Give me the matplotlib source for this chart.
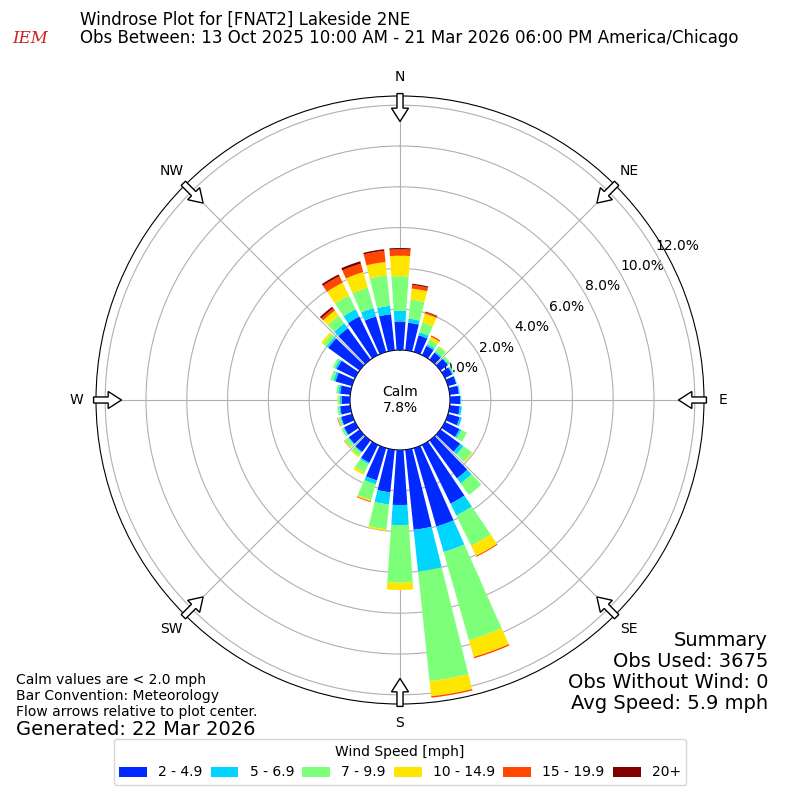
import numpy as np
import matplotlib
matplotlib.use("Agg")
import matplotlib.pyplot as plt
import matplotlib.patches as mpatches

# direction bins (deg, meteorological) and percent frequency per speed class
directions = np.arange(0, 360, 10)
speed_labels = ['2 - 4.9', '5 - 6.9', '7 - 9.9', '10 - 14.9', '15 - 19.9', '20+']
spd_2_5 = [1.40, 1.36, 0.85, 0.50, 0.42, 0.45, 0.40, 0.42, 0.45, 0.50, 0.50, 0.60,
           0.80, 1.20, 2.30, 3.20, 4.00, 3.95, 2.70, 2.10, 1.65, 0.97, 0.70, 0.65,
           0.60, 0.55, 0.50, 0.41, 0.50, 0.84, 1.00, 1.90, 1.90, 2.10, 1.81, 1.78]
spd_5_7 = [0.52, 0.20, 0.15, 0.10, 0.08, 0.05, 0.05, 0.03, 0.05, 0.05, 0.10, 0.10,
           0.10, 0.20, 0.30, 0.65, 1.30, 2.05, 0.98, 0.60, 0.20, 0.08, 0.05, 0.05,
           0.05, 0.05, 0.05, 0.09, 0.10, 0.11, 0.10, 0.10, 0.30, 0.40, 0.43, 0.41]
spd_7_10 = [1.70, 0.94, 0.50, 0.25, 0.28, 0.12, 0.05, 0.00, 0.00, 0.00, 0.00, 0.00,
            0.30, 0.50, 0.70, 1.65, 4.50, 5.40, 2.82, 1.22, 0.80, 0.45, 0.20, 0.18,
            0.10, 0.10, 0.10, 0.08, 0.09, 0.15, 0.12, 0.20, 0.45, 0.75, 1.04, 1.50]
spd_10_15 = [1.00, 0.54, 0.45, 0.15, 0.04, 0.00, 0.00, 0.00, 0.00, 0.00, 0.00, 0.00,
             0.00, 0.05, 0.00, 0.55, 0.85, 0.75, 0.36, 0.08, 0.07, 0.13, 0.07, 0.05,
             0.00, 0.02, 0.00, 0.04, 0.00, 0.00, 0.00, 0.12, 0.32, 0.70, 0.79, 0.66]
spd_15_20 = [0.31, 0.18, 0.08, 0.07, 0.00, 0.00, 0.00, 0.00, 0.00, 0.00, 0.00, 0.00,
             0.00, 0.00, 0.00, 0.05, 0.07, 0.07, 0.00, 0.00, 0.04, 0.00, 0.00, 0.02,
             0.00, 0.03, 0.00, 0.00, 0.00, 0.00, 0.00, 0.00, 0.13, 0.35, 0.43, 0.55]
spd_20p = [0.07, 0.06, 0.03, 0.00, 0.00, 0.00, 0.00, 0.00, 0.00, 0.00, 0.00, 0.00,
           0.00, 0.00, 0.00, 0.00, 0.00, 0.00, 0.00, 0.00, 0.00, 0.00, 0.00, 0.00,
           0.00, 0.00, 0.00, 0.00, 0.00, 0.00, 0.00, 0.00, 0.10, 0.10, 0.12, 0.08]
calm_pct = 7.8
rticks = [0, 2, 4, 6, 8, 10, 12]
compass = ['N', 'NE', 'E', 'SE', 'S', 'SW', 'W', 'NW']

series = [spd_2_5, spd_5_7, spd_7_10, spd_10_15, spd_15_20, spd_20p]
colors = plt.get_cmap('jet')(np.linspace(1 / 6., 1, 6))

fig = plt.figure(figsize=(8, 8), dpi=100)
ax = fig.add_axes([0.12, 0.12, 0.76, 0.76], projection='polar')
ax.set_theta_zero_location('N')
ax.set_theta_direction(-1)

theta = np.deg2rad(directions)
bottom = np.zeros(len(directions))
for vals, col, lab in zip(series, colors, speed_labels):
    vals = np.array(vals)
    ax.bar(theta, vals, width=np.deg2rad(8), bottom=bottom, color=col,
           label=lab, zorder=3)
    bottom += vals

ax.set_ylim(0, 12.45)
ax.set_rorigin(-2.45)
ax.set_yticks(rticks)
ax.set_yticklabels(['%.1f%%' % t for t in rticks], fontsize=10)
ax.set_rlabel_position(60)
ax.set_xticks(np.deg2rad(np.arange(0, 360, 45)))
ax.set_xticklabels(compass, fontsize=10)
ax.tick_params(axis='x', pad=3.5)
ax.grid(True, color='#b0b0b0', lw=0.8)

ax.text(0.5, 0.5, 'Calm\n%.1f%%' % calm_pct, transform=ax.transAxes,
        ha='center', va='center', fontsize=10)

# flow arrows pointing to plot center
for ang in np.arange(0, 360, 45):
    a = np.deg2rad(ang)
    ux, uy = np.sin(a), np.cos(a)
    r0 = 0.504
    ln = 0.046
    arr = mpatches.FancyArrow(0.5 + r0 * ux, 0.5 + r0 * uy, -ln * ux, -ln * uy,
                              width=0.01, head_width=0.028, head_length=0.022,
                              length_includes_head=True, transform=ax.transAxes,
                              fc='white', ec='black', lw=1, clip_on=False, zorder=5)
    ax.add_patch(arr)

fig.text(0.1, 0.975, 'Windrose Plot for [FNAT2] Lakeside 2NE', fontsize=12, va='center')
fig.text(0.1, 0.952, 'Obs Between: 13 Oct 2025 10:00 AM - 21 Mar 2026 06:00 PM America/Chicago',
         fontsize=12, va='center')
fig.text(0.038, 0.952, 'IEM', fontsize=12, color='#cc2222', family='serif',
         style='italic', ha='center', va='center')

fig.text(0.02, 0.13, 'Calm values are < 2.0 mph\nBar Convention: Meteorology\n'
         'Flow arrows relative to plot center.', fontsize=10, va='center', linespacing=1.2)
fig.text(0.02, 0.088, 'Generated: 22 Mar 2026', fontsize=14, va='center')
fig.text(0.96, 0.16, 'Summary\nObs Used: 3675\nObs Without Wind: 0\nAvg Speed: 5.9 mph',
         fontsize=14, ha='right', va='center', linespacing=1.15)

fig.legend(loc='lower center', bbox_to_anchor=(0.5, 0.01), ncol=6, fontsize=10,
           title='Wind Speed [mph]', title_fontsize=10, handlelength=2.0,
           columnspacing=0.6)

fig.savefig('out.png', dpi=100)
